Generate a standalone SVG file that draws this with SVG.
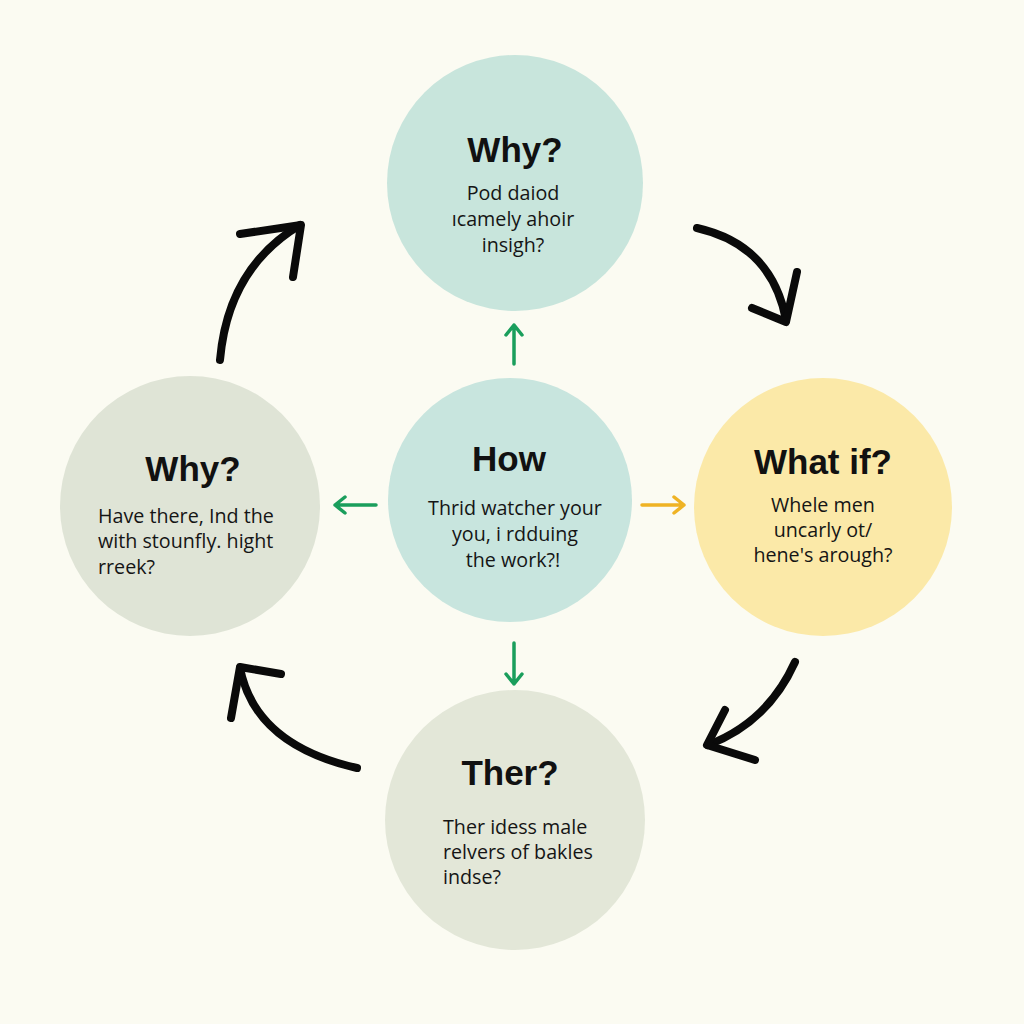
<svg xmlns="http://www.w3.org/2000/svg" width="1024" height="1024" viewBox="0 0 1024 1024">
<defs>
<style>
.title{font-family:"Liberation Sans",Arial,sans-serif;font-weight:bold;font-size:35px;fill:#111;text-anchor:middle}
.body{font-family:"Open Sans","Noto Sans",sans-serif;font-size:19.7px;fill:#151515}
.mid{text-anchor:middle}
.curve{fill:none;stroke:#0a0a0a;stroke-width:8;stroke-linecap:round;stroke-linejoin:round}
.g{fill:none;stroke:#1a9e5c;stroke-width:3.5;stroke-linecap:round;stroke-linejoin:round}
.y{fill:none;stroke:#efb324;stroke-width:3.5;stroke-linecap:round;stroke-linejoin:round}
</style>
</defs>
<rect width="1024" height="1024" fill="#fbfbf2"/>
<g id="node-top">
<circle cx="515" cy="183" r="128" fill="#c8e5dc"/>
<text class="title" x="515" y="162">Why?</text>
<text class="body mid" x="513" y="200">Pod daiod</text>
<text class="body mid" x="513" y="226">ıcamely ahoir</text>
<text class="body mid" x="513" y="252">insigh?</text>
</g>
<g id="node-left">
<circle cx="190" cy="506" r="130" fill="#dfe4d6"/>
<text class="title" x="193" y="481">Why?</text>
<text class="body" x="98" y="523">Have there, Ind the</text>
<text class="body" x="98" y="548">with stounfly. hight</text>
<text class="body" x="98" y="574">rreek?</text>
</g>
<g id="node-center">
<circle cx="510" cy="500" r="122" fill="#c8e5de"/>
<text class="title" x="509" y="471">How</text>
<text class="body mid" x="515" y="515">Thrid watcher your</text>
<text class="body mid" x="515" y="541">you, i rdduing</text>
<text class="body mid" x="513" y="567">the work?!</text>
</g>
<g id="node-right">
<circle cx="823" cy="507" r="129" fill="#fbe9a8"/>
<text class="title" x="823" y="474">What if?</text>
<text class="body mid" x="823" y="512">Whele men</text>
<text class="body mid" x="823" y="537">uncarly ot/</text>
<text class="body mid" x="823" y="562">hene's arough?</text>
</g>
<g id="node-bottom">
<circle cx="515" cy="820" r="130" fill="#e3e7d8"/>
<text class="title" x="510" y="785">Ther?</text>
<text class="body" x="443" y="834">Ther idess male</text>
<text class="body" x="443" y="859">relvers of bakles</text>
<text class="body" x="443" y="884">indse?</text>
</g>
<g id="connectors">
<path class="curve" d="M220,360 Q228,268 300,225"/>
<path class="curve" d="M240,234 L301,225 L293,277"/>
<path class="curve" d="M697,228 Q772,245 786,320"/>
<path class="curve" d="M752,308 L786,322 L797,272"/>
<path class="curve" d="M795,662 Q768,722 708,745"/>
<path class="curve" d="M725,710 L707,745 L755,760"/>
<path class="curve" d="M357,768 Q255,745 240,668"/>
<path class="curve" d="M281,674 L240,667 L231,718"/>
<path class="g" d="M514,364 L514,325 M506,335 L514,325 L522,335"/>
<path class="g" d="M376,505 L335,505 M345,497 L335,505 L345,513"/>
<path class="y" d="M642,505 L684,505 M674,497 L684,505 L674,513"/>
<path class="g" d="M514,643 L514,684 M506,674 L514,684 L522,674"/>
</g>
</svg>
